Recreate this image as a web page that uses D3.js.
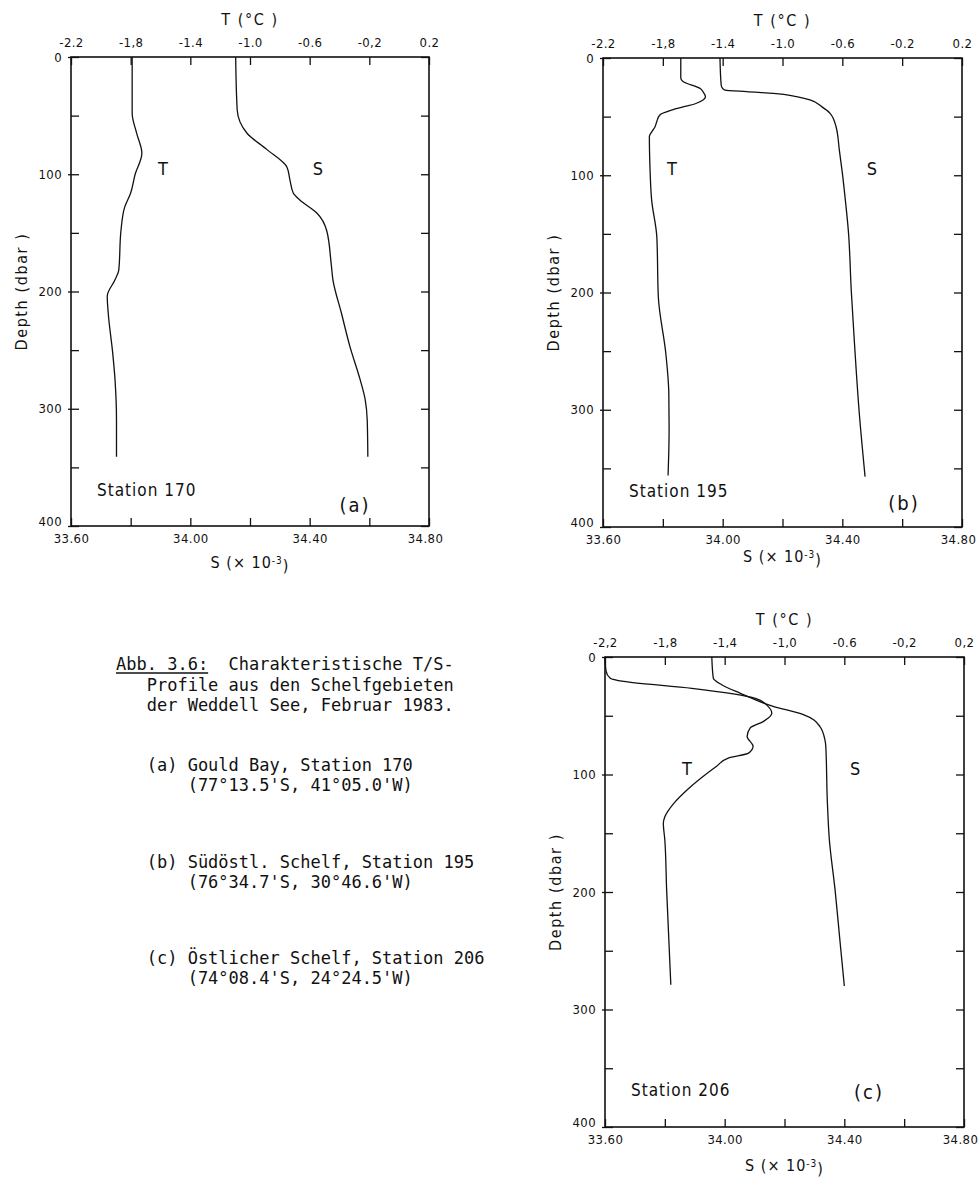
<!DOCTYPE html>
<html><head><meta charset="utf-8">
<script src="https://cdn.jsdelivr.net/npm/d3@7"></script>
<style>
body{margin:0;background:#fff;}
svg{display:block;background:#fff;}
</style></head><body>
<svg id="chart" width="978" height="1179"></svg>
<script>
// ---------------- data ----------------
const depthTicks = [0, 50, 100, 150, 200, 250, 300, 350, 400];
const depthLabels = [0, 100, 200, 300, 400];
const tTicks = [-2.2, -1.8, -1.4, -1.0, -0.6, -0.2, 0.2];
const tTickLabelsA = ["-2.2", "-1,8", "-1.4", "-1.0", "-0.6", "-0,2", "0.2"];
const tTickLabelsB = ["-2.2", "-1,8", "-1.4", "-1.0", "-0.6", "-0.2", "0.2"];
const tTickLabelsC = ["-2,2", "-1,8", "-1,4", "-1,0", "-0.6", "-0,2", "0,2"];
const sTicks = [33.6, 33.8, 34.0, 34.2, 34.4, 34.6, 34.8];
const sLabelTicks = [33.6, 34.0, 34.4, 34.8];
const sTickLabels = ["33.60", "34.00", "34.40", "34.80"];
const stationNames = ["Station 170", "Station 195", "Station 206"];
const panelLetters = ["(a)", "(b)", "(c)"];

// [depth (dbar), temperature (°C)]
const tempA = [[0,-1.79],[48,-1.79],[65,-1.76],[82,-1.725],[100,-1.77],[116,-1.80],[128,-1.84],[148,-1.865],[182,-1.88],[190,-1.905],[204,-1.957],[219,-1.95],[253,-1.92],[275,-1.905],[310,-1.895],[341,-1.895]];
// [depth (dbar), salinity]
const salA = [[0,34.152],[45,34.157],[65,34.19],[79,34.257],[94,34.324],[105,34.334],[116,34.345],[122,34.367],[133,34.424],[148,34.457],[176,34.472],[190,34.478],[219,34.507],[247,34.535],[275,34.569],[292,34.586],[310,34.593],[341,34.595]];

const tempB = [[0,-1.68],[17,-1.68],[20,-1.665],[26,-1.55],[29,-1.53],[33,-1.515],[38.6,-1.575],[44,-1.73],[48.6,-1.82],[54,-1.84],[58.6,-1.852],[63,-1.874],[67,-1.89],[93,-1.886],[121,-1.875],[153,-1.84],[204,-1.83],[252,-1.78],[286,-1.76],[317,-1.758],[356,-1.765]];
const salB = [[0,33.991],[23,33.995],[26,34.0],[27.3,34.008],[28.7,34.08],[30.1,34.169],[33,34.247],[35.8,34.292],[41.5,34.331],[47.2,34.359],[58.6,34.379],[78.5,34.39],[98,34.40],[121,34.41],[147,34.42],[199,34.43],[241,34.44],[304,34.457],[357,34.476]];

const tempC = [[0,-2.2],[12,-2.193],[18,-2.165],[20.8,-2.075],[26.7,-1.62],[35.2,-1.194],[42,-1.11],[47.9,-1.085],[54.8,-1.14],[60.5,-1.23],[67.6,-1.25],[76,-1.21],[81.8,-1.24],[86,-1.376],[93,-1.454],[113,-1.65],[124.6,-1.74],[136,-1.80],[141.5,-1.81],[155.7,-1.80],[198,-1.788],[279,-1.76]];
const salC = [[0,33.957],[18,33.962],[23.6,33.99],[30.7,34.051],[42,34.162],[49,34.263],[59,34.318],[70.4,34.335],[76,34.338],[121.5,34.343],[155.7,34.35],[198,34.369],[240.6,34.385],[280,34.40]];

// curve labels: [temperature for "T", salinity for "S", depth]
const curveLabelA = [-1.583, 34.428, 95];
const curveLabelB = [-1.739, 34.499, 94];
const curveLabelC = [-1.652, 34.436, 95];

const captionLines = [
  "Abb. 3.6:  Charakteristische T/S-",
  "   Profile aus den Schelfgebieten",
  "   der Weddell See, Februar 1983.",
  "   (a) Gould Bay, Station 170",
  "       (77°13.5'S, 41°05.0'W)",
  "   (b) Südöstl. Schelf, Station 195",
  "       (76°34.7'S, 30°46.6'W)",
  "   (c) Östlicher Schelf, Station 206",
  "       (74°08.4'S, 24°24.5'W)"
];

// ---------------- layout ----------------
const FONT = '"DejaVu Sans Condensed", "Liberation Sans Narrow", "DejaVu Sans", sans-serif';
const MONO = '"DejaVu Sans Mono", "Liberation Mono", monospace';
const INK = "#111";

const panels = [
  {x0:71,  x1:429, y0:57,  y1:526,  temp:tempA, sal:salA, tl:tTickLabelsA, cl:curveLabelA, sOff:42, letX:-74, letY:-21, stY:-36},
  {x0:603, x1:962, y0:58,  y1:527,  temp:tempB, sal:salB, tl:tTickLabelsB, cl:curveLabelB, sOff:35, letX:-58, letY:-24, stY:-36},
  {x0:605, x1:964, y0:657, y1:1127, temp:tempC, sal:salC, tl:tTickLabelsC, cl:curveLabelC, sOff:44, letX:-95, letY:-35, stY:-37}
];

const svg = d3.select("#chart");

panels.forEach((p, i) => {
  const xT = d3.scaleLinear().domain([-2.2, 0.2]).range([p.x0, p.x1]);
  const xS = d3.scaleLinear().domain([33.6, 34.8]).range([p.x0, p.x1]);
  const y = d3.scaleLinear().domain([0, 400]).range([p.y0, p.y1]);
  const g = svg.append("g");

  const style = sel => {
    sel.select(".domain").remove();
    sel.selectAll(".tick line").attr("stroke", INK).attr("stroke-width", 1.3);
    sel.selectAll(".tick text").attr("fill", INK).attr("font-family", FONT)
      .attr("font-size", 13).attr("letter-spacing", 0.4);
  };

  // top axis (temperature)
  g.append("g").attr("transform", `translate(0,${p.y0})`)
    .call(d3.axisTop(xT).tickValues(tTicks).tickSize(-8).tickPadding(10)
      .tickFormat((d, k) => p.tl[k]))
    .call(style);

  // bottom axis (salinity)
  const ba = g.append("g").attr("transform", `translate(0,${p.y1})`)
    .call(d3.axisBottom(xS).tickValues(sTicks).tickSize(-8).tickPadding(8)
      .tickFormat(d => { const k = sLabelTicks.findIndex(v => Math.abs(v - d) < 1e-9); return k >= 0 ? sTickLabels[k] : ""; }))
    .call(style);
  ba.selectAll(".tick text").filter(d => d === 34.8).attr("dx", -4);

  // left axis: inward ticks
  g.append("g").attr("transform", `translate(${p.x0},0)`)
    .call(d3.axisLeft(y).tickValues(depthTicks).tickSize(-8).tickFormat(""))
    .call(style);
  // left axis: labels with short outward ticks
  const la = g.append("g").attr("transform", `translate(${p.x0},0)`)
    .call(d3.axisLeft(y).tickValues(depthLabels).tickSize(3).tickPadding(6).tickFormat(d3.format("d")))
    .call(style);
  la.selectAll(".tick text").attr("dy", d => d === 400 ? "-0.05em" : "0.32em");

  // right axis
  g.append("g").attr("transform", `translate(${p.x1},0)`)
    .call(d3.axisRight(y).tickValues(depthTicks).tickSize(-8).tickFormat(""))
    .call(style);

  // frame
  g.append("rect").attr("x", p.x0).attr("y", p.y0)
    .attr("width", p.x1 - p.x0).attr("height", p.y1 - p.y0)
    .attr("fill", "none").attr("stroke", INK).attr("stroke-width", 1.6);

  // profiles
  const lineT = d3.line().x(d => xT(d[1])).y(d => y(d[0])).curve(d3.curveMonotoneY);
  const lineS = d3.line().x(d => xS(d[1])).y(d => y(d[0])).curve(d3.curveMonotoneY);
  g.append("path").datum(p.temp).attr("d", lineT)
    .attr("fill", "none").attr("stroke", INK).attr("stroke-width", 1.3);
  g.append("path").datum(p.sal).attr("d", lineS)
    .attr("fill", "none").attr("stroke", INK).attr("stroke-width", 1.3);

  // curve labels
  g.append("text").attr("x", xT(p.cl[0])).attr("y", y(p.cl[2])).attr("dy", "0.35em")
    .attr("text-anchor", "middle").attr("font-family", FONT).attr("font-size", 18).attr("fill", INK).text("T");
  g.append("text").attr("x", xS(p.cl[1])).attr("y", y(p.cl[2])).attr("dy", "0.35em")
    .attr("text-anchor", "middle").attr("font-family", FONT).attr("font-size", 18).attr("fill", INK).text("S");

  const cx = (p.x0 + p.x1) / 2;
  // axis titles
  g.append("text").attr("x", cx).attr("y", p.y0 - 32).attr("text-anchor", "middle")
    .attr("font-family", FONT).attr("font-size", 16).attr("letter-spacing", 1.6)
    .attr("fill", INK).text("T (°C )");
  const st = g.append("text").attr("x", cx).attr("y", p.y1 + p.sOff).attr("text-anchor", "middle")
    .attr("font-family", FONT).attr("font-size", 16).attr("letter-spacing", 1).attr("fill", INK);
  st.append("tspan").text("S (× 10");
  st.append("tspan").attr("dy", "-0.45em").attr("font-size", 10).text("-3");
  st.append("tspan").attr("dy", "0.45em").text(")");
  g.append("text")
    .attr("transform", `translate(${p.x0 - 50},${(p.y0 + p.y1) / 2}) rotate(-90)`)
    .attr("text-anchor", "middle").attr("dy", "0.35em")
    .attr("font-family", FONT).attr("font-size", 16).attr("letter-spacing", 1.6)
    .attr("fill", INK).text("Depth (dbar )");

  // station and panel letter
  g.append("text").attr("x", p.x0 + 26).attr("y", p.y1 + p.stY).attr("dy", "0.35em")
    .attr("font-family", FONT).attr("font-size", 17).attr("letter-spacing", 1)
    .attr("fill", INK).text(stationNames[i]);
  g.append("text").attr("x", p.x1 + p.letX).attr("y", p.y1 + p.letY).attr("dy", "0.35em")
    .attr("text-anchor", "middle").attr("font-family", FONT).attr("font-size", 20)
    .attr("letter-spacing", 2).attr("fill", INK).text(panelLetters[i]);
});

// ---------------- caption ----------------
const capX = 116;
const capY = [670, 691, 711, 771, 791, 868, 888, 964, 984];
const capFont = 17;
const cap = svg.append("g").attr("font-family", MONO).attr("font-size", capFont).attr("fill", INK);
cap.selectAll("text").data(captionLines).join("text")
  .attr("x", capX).attr("y", (d, k) => capY[k])
  .style("white-space", "pre")
  .text(d => d);
// underline of "Abb. 3.6:"
const probe = cap.append("text").style("white-space", "pre").text("Abb. 3.6:");
const w = probe.node().getComputedTextLength();
probe.remove();
cap.append("line").attr("x1", capX).attr("x2", capX + w)
  .attr("y1", capY[0] + 3).attr("y2", capY[0] + 3)
  .attr("stroke", INK).attr("stroke-width", 1.3);
</script>
</body></html>
